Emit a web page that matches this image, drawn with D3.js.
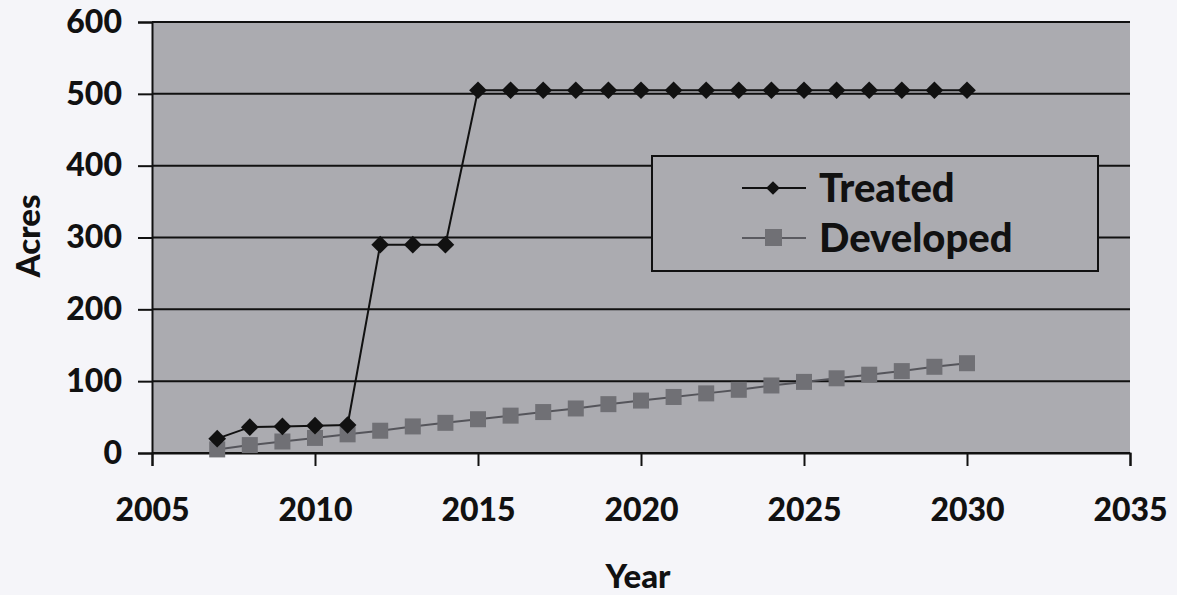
<!DOCTYPE html>
<html><head><meta charset="utf-8">
<script src="https://cdn.jsdelivr.net/npm/d3@7"></script>
<style>
html,body{margin:0;padding:0;background:#f5f5f9;}
svg{display:block;}
</style></head>
<body>
<svg id="chart" width="1177" height="595"></svg>
<script>
const years = [2007,2008,2009,2010,2011,2012,2013,2014,2015,2016,2017,2018,2019,2020,2021,2022,2023,2024,2025,2026,2027,2028,2029,2030];
const treated = [20,36,37,38,39,290,290,290,505,505,505,505,505,505,505,505,505,505,505,505,505,505,505,505];
const developed = [5,11,16,21,26,31,37,42,47,52,57,62,68,73,78,83,88,94,99,104,109,114,120,125];
const xTicks = [2005,2010,2015,2020,2025,2030,2035];
const yTicks = [0,100,200,300,400,500,600];
const seriesNames = ["Treated","Developed"];

const svg = d3.select("#chart");
const font = "Lato, 'Open Sans', sans-serif";
const L = 152, R = 1130, T = 22, B = 453;
const x = d3.scaleLinear().domain([2005,2035]).range([L,R]);
const y = d3.scaleLinear().domain([0,600]).range([B,T]);

// plot area
svg.append("rect").attr("x",L).attr("y",T).attr("width",R-L).attr("height",B-T).attr("fill","#ababb0");

// gridlines + y axis
const yAxis = d3.axisLeft(y).tickValues(yTicks).tickSize(14).tickPadding(16).tickFormat(d3.format("d"));
const gy = svg.append("g").attr("transform",`translate(${L},0)`).call(yAxis);
gy.select(".domain").attr("stroke","#111").attr("stroke-width",2);
gy.selectAll(".tick line").attr("stroke","#111").attr("stroke-width",2);
gy.selectAll(".tick text").attr("font-family",font).attr("font-weight","900").attr("font-size",32).attr("fill","#111");
svg.append("g").selectAll("line").data(yTicks).join("line")
  .attr("x1",L).attr("x2",R).attr("y1",d=>y(d)).attr("y2",d=>y(d))
  .attr("stroke","#111").attr("stroke-width",2);

// x axis
const xAxis = d3.axisBottom(x).tickValues(xTicks).tickSize(13).tickPadding(32).tickFormat(d3.format("d"));
const gx = svg.append("g").attr("transform",`translate(0,${B})`).call(xAxis);
gx.select(".domain").attr("stroke","#111").attr("stroke-width",2);
gx.selectAll(".tick line").attr("stroke","#111").attr("stroke-width",2);
gx.selectAll(".tick text").attr("font-family",font).attr("font-weight","900").attr("font-size",32).attr("fill","#111");

// axis titles
svg.append("text").attr("x",638).attr("y",588).attr("text-anchor","middle")
  .attr("font-family",font).attr("font-weight","900").attr("font-size",33).attr("fill","#111").text("Year");
svg.append("text").attr("transform",`translate(40,236) rotate(-90)`).attr("text-anchor","middle")
  .attr("font-family",font).attr("font-weight","900").attr("font-size",33).attr("fill","#111").text("Acres");

// lines
const line = d3.line().x((d,i)=>x(years[i])).y(d=>y(d));
svg.append("path").datum(developed).attr("d",line).attr("fill","none").attr("stroke","#55555b").attr("stroke-width",2);
svg.append("g").selectAll("rect").data(developed).join("rect")
  .attr("x",(d,i)=>x(years[i])-8).attr("y",d=>y(d)-8).attr("width",16).attr("height",16)
  .attr("fill","#707075");
svg.append("path").datum(treated).attr("d",line).attr("fill","none").attr("stroke","#111").attr("stroke-width",2);
const diamond = d3.symbol().type(d3.symbolDiamond2).size(200);
svg.append("g").selectAll("path").data(treated).join("path")
  .attr("transform",(d,i)=>`translate(${x(years[i])},${y(d)})`).attr("d",diamond).attr("fill","#111");

// legend
const lg = svg.append("g");
lg.append("rect").attr("x",652).attr("y",156).attr("width",446).attr("height",115)
  .attr("fill","#ababb0").attr("stroke","#111").attr("stroke-width",2);
const items = [{name:seriesNames[0],cy:188},{name:seriesNames[1],cy:238}];
const legDiamond = d3.symbol().type(d3.symbolDiamond2).size(120);
items.forEach((it,i)=>{
  lg.append("line").attr("x1",742).attr("x2",806).attr("y1",it.cy).attr("y2",it.cy)
    .attr("stroke",i===0?"#111":"#5a5a60").attr("stroke-width",2);
  if(i===0){
    lg.append("path").attr("transform",`translate(773,${it.cy})`).attr("d",legDiamond).attr("fill","#111");
  } else {
    lg.append("rect").attr("x",765).attr("y",it.cy-9).attr("width",17).attr("height",17).attr("fill","#707075");
  }
  lg.append("text").attr("x",819).attr("y",it.cy+14).attr("font-family",font).attr("font-weight","900")
    .attr("font-size",40).attr("fill","#111").text(it.name);
});
</script>
</body></html>
